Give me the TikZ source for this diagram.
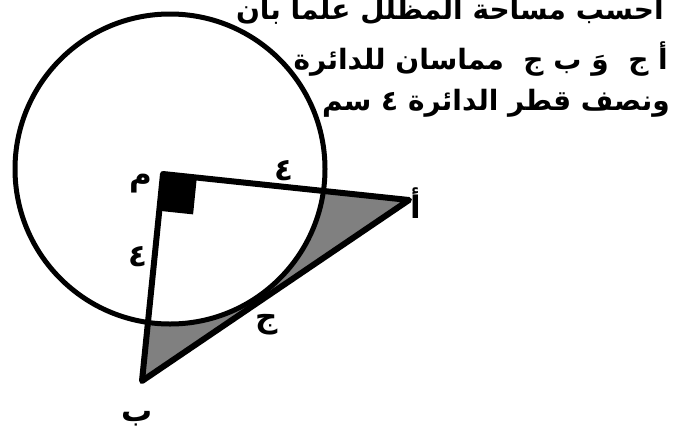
\documentclass[tikz,border=0pt]{standalone}
\usepackage{fontspec}
\newfontfamily\arabicfont[Script=Arabic]{DejaVu Sans}
\TeXXeTstate=1
\usetikzlibrary{calc}

\begin{document}
\begin{tikzpicture}[x=1pt,y=-1pt,
  lbl/.style={font=\arabicfont\bfseries\fontsize{31}{36}\selectfont,inner sep=0pt},
  txt/.style={font=\arabicfont\bfseries\fontsize{28}{34}\selectfont,inner sep=0pt,anchor=base east}]
\useasboundingbox (0,0) rectangle (679,429);
\coordinate (O) at (170,169);
\coordinate (M) at (163,174);
\coordinate (A) at (409,200);
\coordinate (B) at (142,381);
% shaded part
\begin{scope}
\clip (M) -- (A) -- (B) -- cycle;
\fill[gray,even odd rule] (M) -- (A) -- (B) -- cycle (O) circle (155);
\end{scope}
\draw[line width=5pt] (O) circle (155);
\draw[line width=6pt,line join=round] (B) -- (M) -- (A) -- cycle;
% right angle mark
\coordinate (sa) at ($(M)!34pt!(A)$);
\coordinate (sb) at ($(M)!37pt!(B)$);
\coordinate (sc) at ($(sa)+(sb)-(M)$);
\fill (M) -- (sa) -- (sc) -- (sb) -- cycle;
\node[lbl] (m) at (141,184) {\beginR م\endR};
\node[lbl] (ma) at (284,171) {٤};
\node[lbl] (mb) at (138,257) {٤};
\node[lbl] (a) at (416,203) {\beginR أ\endR};
\node[lbl] (j) at (267,325) {\beginR ج\endR};
\node[lbl] (b) at (137,419) {\beginR ب\endR};
\node[txt] (t1) at (664,19) {\beginR احسب مساحة المظلل علما بان\endR};
\node[txt] (t2) at (668,69) {\beginR أ ج~~وَ ب ج~~مماسان للدائرة\endR};
\node[txt] (t3) at (670,110) {\beginR ونصف قطر الدائرة ٤ سم\endR};
\end{tikzpicture}
\end{document}
